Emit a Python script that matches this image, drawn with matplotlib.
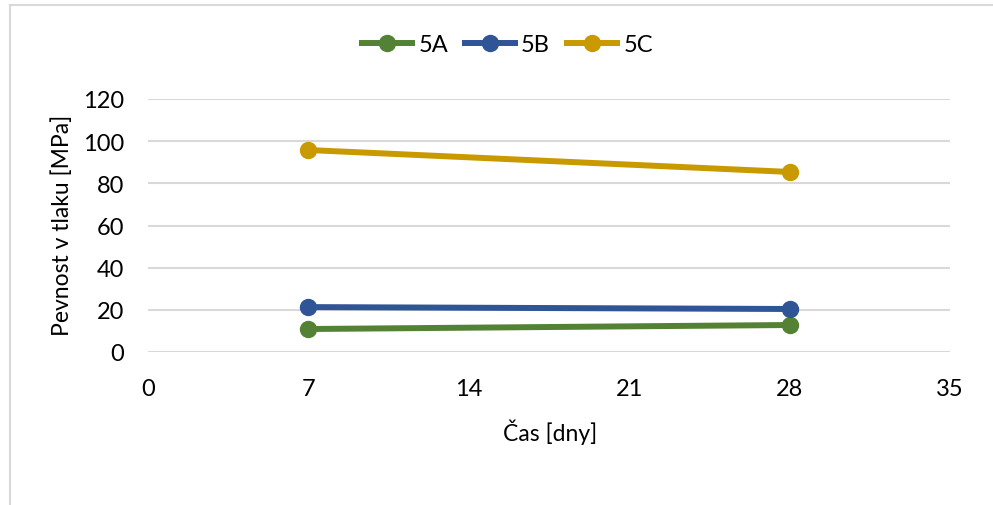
import matplotlib
matplotlib.use("Agg")
import matplotlib.pyplot as plt

plt.rcParams['font.family'] = ['Lato', 'DejaVu Sans']

days = [7, 28]
series_names = ["5A", "5B", "5C"]
strength_5a = [10.9, 12.8]
strength_5b = [21.3, 20.4]
strength_5c = [95.8, 85.4]
colors = ["#548235", "#2F5597", "#C99A00"]

x_ticks = [0, 7, 14, 21, 28, 35]
y_ticks = [0, 20, 40, 60, 80, 100, 120]

W, H = 993, 506
fig = plt.figure(figsize=(W / 100, H / 100), dpi=100)
fig.patch.set_facecolor("white")

# chart frame (left and top edges visible)
fig.add_artist(plt.Line2D([9.5 / W, 9.5 / W], [0, 1 - 6 / H], transform=fig.transFigure,
                          color="#D9D9D9", lw=1.5))
fig.add_artist(plt.Line2D([9.5 / W, 1], [1 - 6 / H, 1 - 6 / H], transform=fig.transFigure,
                          color="#D9D9D9", lw=1.5))

left, right = 148 / W, 950 / W
bottom, top = 1 - 353 / H, 1 - 100 / H
ax = fig.add_axes([left, bottom, right - left, top - bottom])

for name, vals, c in zip(series_names, [strength_5a, strength_5b, strength_5c], colors):
    ax.plot(days, vals, color=c, lw=4.3, marker="o", markersize=11.5,
            solid_capstyle="butt", label=name, zorder=3)

ax.set_xlim(0, 35)
ax.set_ylim(0, 120)
ax.set_xticks(x_ticks)
ax.set_yticks(y_ticks)
ax.grid(axis="y", color="#D9D9D9", lw=1.5, zorder=0)
for s in ax.spines.values():
    s.set_visible(False)
ax.tick_params(length=0, labelsize=17, colors="black")
ax.tick_params(axis="x", pad=19)
ax.tick_params(axis="y", pad=17)

ax.set_xlabel("Čas [dny]", fontsize=16.5, va="center", ha="center")
ax.xaxis.set_label_coords(0.501, -0.312)
ax.set_ylabel("Pevnost v tlaku [MPa]", fontsize=16.5, va="center", ha="center")
ax.yaxis.set_label_coords(-0.107, 0.506)

fig.legend(loc="center", bbox_to_anchor=(506 / W, 1 - 46 / H), ncol=3, frameon=False,
           fontsize=17, handlelength=2.35, columnspacing=0.6, handletextpad=0.15)

fig.savefig("out.png", dpi=100)
